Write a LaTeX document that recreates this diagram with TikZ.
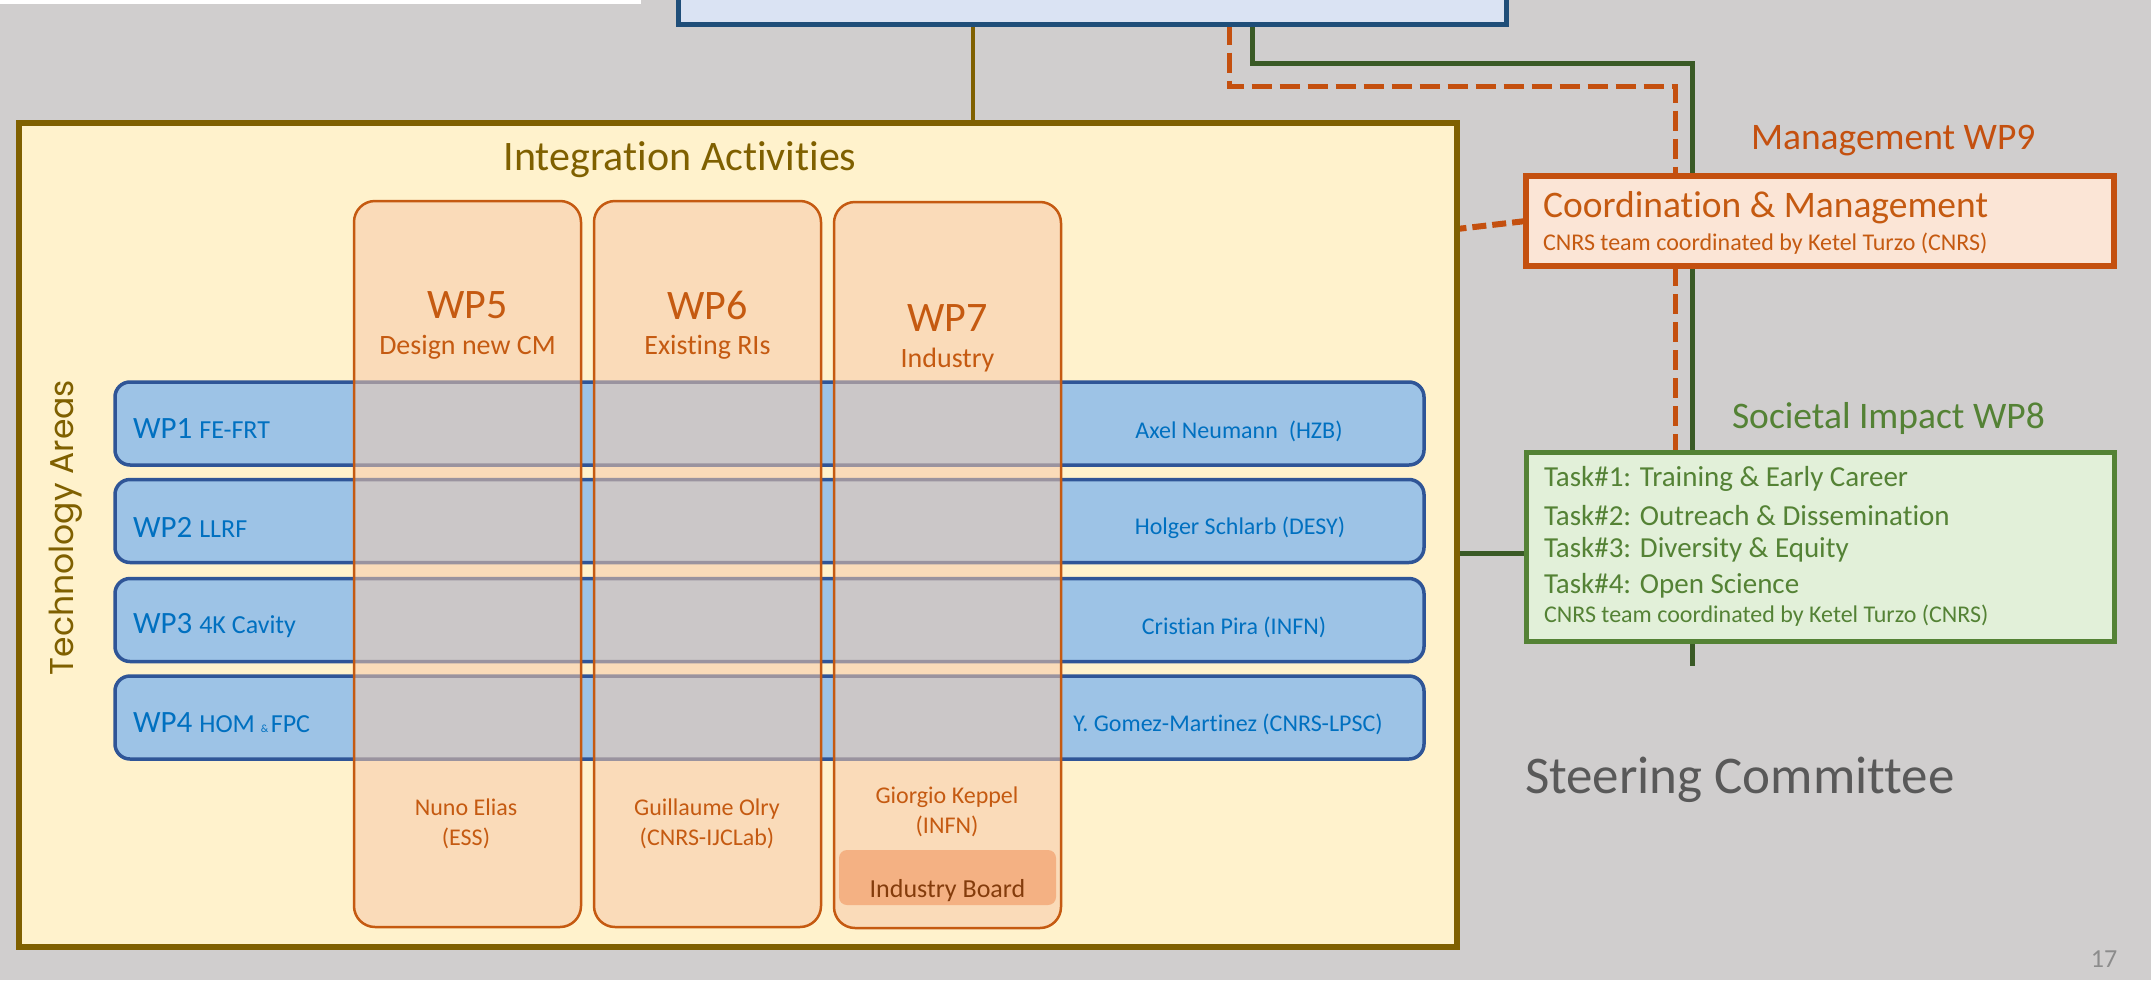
\documentclass[tikz,border=0pt]{standalone}
\usepackage{fontspec}
\setmainfont{Carlito}[Ligatures={NoCommon}]
\newfontfamily\geofont{Poppins}
\pgfdeclarelayer{bglayer}
\pgfdeclarelayer{connlayer}
\pgfsetlayers{bglayer,connlayer,main}
\definecolor{bgc}{HTML}{D0CECE}
\definecolor{olv}{HTML}{7F6000}
\definecolor{cream}{HTML}{FFF2CC}
\definecolor{topfill}{HTML}{DAE3F3}
\definecolor{topdraw}{HTML}{1F4E79}
\definecolor{rowfill}{HTML}{9DC3E6}
\definecolor{rowdraw}{HTML}{2F5597}
\definecolor{rowtext}{HTML}{0070C0}
\definecolor{colfill}{HTML}{FADBB9}
\definecolor{coldraw}{HTML}{C55A11}
\definecolor{overfill}{HTML}{CBC7C8}
\definecolor{overdraw}{HTML}{9A939F}
\definecolor{orng}{HTML}{C4500F}
\definecolor{mgmtfill}{HTML}{FBE5D6}
\definecolor{grn}{HTML}{548235}
\definecolor{dgrn}{HTML}{3A5A26}
\definecolor{socfill}{HTML}{E2F0D9}
\definecolor{ibfill}{HTML}{F4B183}
\definecolor{ibtext}{HTML}{843C0C}
\definecolor{steer}{HTML}{595959}
\definecolor{pagenum}{HTML}{8C8C8C}
\newcommand\fs[2]{\fontsize{#1}{#2}\selectfont}
\begin{document}
\begin{tikzpicture}[x=1pt,y=-1pt,
  box/.style={outer sep=0pt, inner sep=0pt},
  txt/.style={inner sep=0pt, outer sep=0pt},
  rowbox/.style={box, draw=rowdraw, fill=rowfill, line width=3.5pt, rounded corners=15pt, minimum width=1309pt, minimum height=83pt},
  colbox/.style={box, fill=colfill, minimum width=227pt, minimum height=726pt},
  ovstyle/.style={fill=overfill, draw=overdraw, line width=3.5pt, rounded corners=15pt},
  colborder/.style={draw=coldraw, line width=2.5pt, rounded corners=21pt},
  rowlabel/.style={txt, anchor=west, text=rowtext},
  namelabel/.style={txt, text=rowtext, font=\fs{24}{29}},
  colhead/.style={txt, text=coldraw, font=\fs{42}{50}},
  colsub/.style={txt, text=coldraw, font=\fs{28}{33}},
  colname/.style={txt, text=coldraw, font=\fs{24}{30}, align=center},
  socline/.style={txt, anchor=west, text=grn, font=\fs{29}{35}},
  bigtitle/.style={txt, anchor=west, font=\fs{37.5}{45}},
  orngdash/.style={orng, line width=5pt, dash pattern=on 20pt off 8pt},
  grnline/.style={dgrn, line width=5pt}
]
\useasboundingbox (0,0) rectangle (2151,980);
\begin{pgfonlayer}{bglayer}
\fill[bgc] (0,0) rectangle (2151,980);
\fill[white] (0,0) rectangle (641,4);
\end{pgfonlayer}

% main boxes
\node[box, draw=topdraw, fill=topfill, line width=5pt, minimum width=828pt, minimum height=45pt] (top) at (1092.5,2) {};
\node[box, draw=olv, fill=cream, line width=6pt, minimum width=1438pt, minimum height=824pt] (integ) at (738,535) {};

% rows
\node[rowbox] (wp1) at (769.5,423.5) {};
\node[rowbox] (wp2) at (769.5,521) {};
\node[rowbox] (wp3) at (769.5,620) {};
\node[rowbox] (wp4) at (769.5,717.5) {};

% columns
\node[colbox, rounded corners=21pt] (wp5) at (467.5,564) {};
\node[colbox, rounded corners=21pt] (wp6) at (707.5,564) {};
\node[colbox, rounded corners=21pt] (wp7) at (947.5,565) {};

\foreach \c in {wp5,wp6,wp7}{
  \begin{scope}
    \clip[rounded corners=21pt] (\c.south west) rectangle (\c.north east);
    \foreach \r in {wp1,wp2,wp3,wp4}{
      \draw[ovstyle] (\r.south west) rectangle (\r.north east);
    }
  \end{scope}
  \draw[colborder] (\c.south west) rectangle (\c.north east);
}

% industry board
\node[box, fill=ibfill, rounded corners=8pt, minimum width=217pt, minimum height=55pt] (ib) at (947.5,877.5) {};
\node[txt, text=ibtext, font=\fs{26}{31}] (ibt) at (947.5,891) {Industry Board};

% right boxes
\node[box, draw=orng, fill=mgmtfill, line width=6pt, minimum width=588pt, minimum height=90pt] (coord) at (1820,221) {};
\node[box, draw=grn, fill=socfill, line width=5pt, minimum width=588pt, minimum height=189pt] (soc) at (1820.5,547) {};

% connectors
\begin{pgfonlayer}{connlayer}
\draw[olv, line width=4pt] ([xshift=-119.5pt]top.south) -- ([xshift=235pt]integ.north);
\draw[orngdash] ([xshift=136.5pt]top.south) -- ++(0,61.5) -| ([xshift=-145pt]coord.north);
\draw[orngdash] ([xshift=-145pt]coord.south) -- ([xshift=-145.5pt]soc.north);
\coordinate (gend) at (1692,666);
\draw[grnline] ([xshift=159.5pt]top.south) -- ++(0,38.5) -| (gend);
\coordinate (sw) at ([yshift=-6pt]soc.west);
\draw[grnline] (sw) -- (sw -| integ.east);
\coordinate (cw) at ([yshift=-8pt]coord.west);
\draw[orng, line width=6pt, dash pattern=on 14pt off 6pt] (coord.west) -- (cw -| integ.east);
\end{pgfonlayer}

% texts in integration box
\node[txt, text=olv, font=\fs{42}{50}] (iat) at (680,160) {Integration Activities};
\node[txt, text=olv, font=\geofont\fs{33}{40}, rotate=90] (tat) at (66,527.5) {Technology Areas};

\node[colhead] (wp5h) at (467.5,305) {WP5};
\node[colsub] (wp5s) at (467.5,347) {Design new CM};
\node[colhead] (wp6h) at (707.5,305) {WP6};
\node[colsub] (wp6s) at (707.5,347) {Existing RIs};
\node[colhead] (wp7h) at (947.5,318) {WP7};
\node[colsub] (wp7s) at (947.5,360) {Industry};

\node[colname] (wp5n) at (466,824) {Nuno Elias\\(ESS)};
\node[colname] (wp6n) at (707,824) {Guillaume Olry\\(CNRS-IJCLab)};
\node[colname] (wp7n) at (947,812) {Giorgio Keppel\\(INFN)};

\node[rowlabel] (wp1l) at (133,429) {\fs{31}{37}WP1 \fs{26}{31}FE-FRT};
\node[rowlabel] (wp2l) at (133,527) {\fs{31}{37}WP2 \fs{26}{31}LLRF};
\node[rowlabel] (wp3l) at (133,626) {\fs{31}{37}WP3 \fs{26}{31}4K Cavity};
\node[rowlabel] (wp4l) at (133,723) {\fs{31}{37}WP4 \fs{26}{31}HOM \fs{11}{13}\& \fs{26}{31}FPC};

\node[namelabel] (wp1n) at (1239,431) {Axel Neumann\ \ (HZB)};
\node[namelabel] (wp2n) at (1240,528) {Holger Schlarb (DESY)};
\node[namelabel] (wp3n) at (1234,627) {Cristian Pira (INFN)};
\node[namelabel] (wp4n) at (1228,724) {Y. Gomez-Martinez (CNRS-LPSC)};

% management
\node[bigtitle, text=orng] (mgt) at (1751,141) {Management WP9};
\node[bigtitle, text=coldraw] (coordt) at (1543,208) {Coordination \& Management};
\node[txt, anchor=west, text=coldraw, font=\fs{24}{29}] (coords) at (1543,244) {CNRS team coordinated by Ketel Turzo (CNRS)};

% societal impact
\node[bigtitle, text=grn] (sit) at (1732,418) {Societal Impact WP8};
\node[socline] (t1) at (1544,479) {Task\#1: Training \& Early Career};
\node[socline] (t2) at (1544,516) {Task\#2: Outreach \& Dissemination};
\node[socline] (t3) at (1544,550) {Task\#3: Diversity \& Equity};
\node[socline] (t4) at (1544,586) {Task\#4: Open Science};
\node[txt, anchor=west, text=grn, font=\fs{24}{29}] (t5) at (1544,616) {CNRS team coordinated by Ketel Turzo (CNRS)};

\node[txt, anchor=west, text=steer, font=\fs{53}{64}] (steer) at (1525,780) {Steering Committee};
\node[txt, text=pagenum, font=\fs{26}{31}] (pg) at (2104,959) {17};
\end{tikzpicture}
\end{document}
